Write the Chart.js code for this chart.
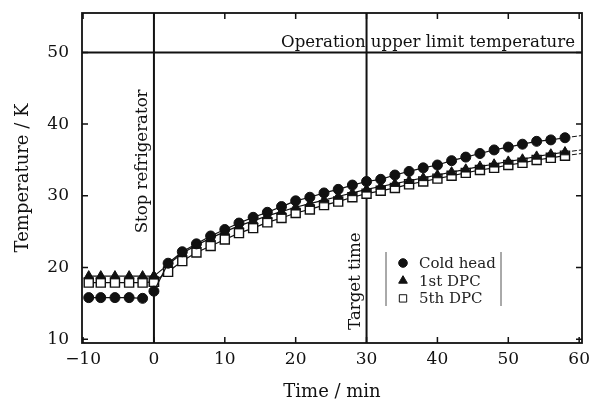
<!DOCTYPE html>
<html>
<head>
<meta charset="utf-8">
<script src="https://cdn.jsdelivr.net/npm/chart.js@4/dist/chart.umd.min.js"></script>
<style>
  html, body { margin: 0; padding: 0; background: #fff; }
  #wrap { width: 595px; height: 404px; }
</style>
</head>
<body>
<div id="wrap"><canvas id="c" width="595" height="404"></canvas></div>
<script>
// Axis ticks
const xTicks = [-10, 0, 10, 20, 30, 40, 50, 60];
const yTicks = [10, 20, 30, 40, 50];

// Time stamps (min): before and after the refrigerator is stopped
const preMinutes = [-9.2, -7.5, -5.5, -3.5, -1.6];
const preMinutesToStop = [-9.2, -7.5, -5.5, -3.5, -1.6, 0];
const postMinutes = [0, 2, 4, 6, 8, 10, 12, 14, 16, 18, 20, 22, 24, 26, 28,
                     30, 32, 34, 36, 38, 40, 42, 44, 46, 48, 50, 52, 54, 56, 58];
const tailMinutes = [58, 60.3];

// Temperatures (K)
const coldHeadPre = [15.8, 15.8, 15.8, 15.8, 15.7];
const coldHeadPost = [16.7, 20.6, 22.2, 23.3, 24.4, 25.3, 26.2, 27.0, 27.7, 28.5,
                      29.3, 29.8, 30.4, 30.9, 31.5, 32.0, 32.3, 32.9, 33.4, 33.9,
                      34.3, 34.9, 35.4, 35.9, 36.4, 36.8, 37.2, 37.6, 37.8, 38.1];
const coldHeadTail = [38.1, 38.4];

const dpc1Pre = [18.8, 18.8, 18.8, 18.8, 18.8, 18.8];
const dpc1Post = [18.8, 20.4, 22.0, 23.1, 24.1, 25.0, 25.8, 26.5, 27.2, 27.8,
                  28.4, 28.9, 29.4, 29.9, 30.4, 30.9, 31.3, 31.7, 32.1, 32.5,
                  32.9, 33.3, 33.7, 34.1, 34.4, 34.8, 35.1, 35.5, 35.8, 36.1];
const dpc1Tail = [36.1, 36.4];

const dpc5Pre = [17.9, 17.9, 17.9, 17.9, 17.9, 18.0];
const dpc5Post = [18.0, 19.4, 20.9, 22.1, 23.0, 23.9, 24.8, 25.5, 26.3, 26.9,
                  27.6, 28.1, 28.7, 29.2, 29.8, 30.3, 30.7, 31.1, 31.6, 32.0,
                  32.4, 32.8, 33.2, 33.6, 33.9, 34.3, 34.6, 35.0, 35.3, 35.6];
const dpc5Tail = [35.6, 35.9];

// Reference marks
const upperLimit = 50;
const stopTime = 0;
const targetTime = 30;

const seriesNames = ['Cold head', '1st DPC', '5th DPC'];

const FONT = '"DejaVu Serif", "Liberation Serif", serif';
const INK = '#111';

const pts = (xs, ys) => xs.map((x, i) => ({ x: x, y: ys[i] }));

const styles = {
  cold: { pointStyle: 'circle', pointRadius: 5, pointBackgroundColor: INK, pointBorderColor: INK, pointBorderWidth: 1 },
  dpc1: { pointStyle: 'triangle', pointRadius: 5.5, pointBackgroundColor: INK, pointBorderColor: INK, pointBorderWidth: 1 },
  dpc5: { pointStyle: 'rect', pointRadius: 6.4, pointBackgroundColor: '#fff', pointBorderColor: INK, pointBorderWidth: 1.4 }
};

function series(data, st, order) {
  return Object.assign({
    data: data, showLine: true, borderColor: INK, borderWidth: 1.2,
    tension: 0, order: order
  }, st);
}
function tail(data) {
  return { data: data, showLine: true, borderColor: INK, borderWidth: 1,
           borderDash: [5, 2], pointRadius: 0, order: 5 };
}

const datasets = [
  series(pts(preMinutes, coldHeadPre), styles.cold, 1),
  series(pts(postMinutes, coldHeadPost), styles.cold, 1),
  series(pts(preMinutesToStop, dpc5Pre), styles.dpc5, 2),
  series(pts(postMinutes, dpc5Post), styles.dpc5, 2),
  series(pts(preMinutesToStop, dpc1Pre), styles.dpc1, 0),
  series(pts(postMinutes, dpc1Post), styles.dpc1, 0),
  tail(pts(tailMinutes, coldHeadTail)),
  tail(pts(tailMinutes, dpc1Tail)),
  tail(pts(tailMinutes, dpc5Tail))
];

// Frame, inward ticks, reference lines and their captions
const framePlugin = {
  id: 'frame',
  beforeDatasetsDraw(chart) {
    const { ctx, chartArea: a, scales: { x, y } } = chart;
    ctx.save();
    ctx.strokeStyle = INK;
    ctx.lineWidth = 2;
    // limit line and event lines
    const yl = y.getPixelForValue(upperLimit);
    ctx.beginPath(); ctx.moveTo(a.left, yl); ctx.lineTo(a.right, yl); ctx.stroke();
    [stopTime, targetTime].forEach(v => {
      const px = x.getPixelForValue(v);
      ctx.beginPath(); ctx.moveTo(px, a.top); ctx.lineTo(px, a.bottom); ctx.stroke();
    });
    // frame
    ctx.lineWidth = 1.8;
    ctx.strokeRect(a.left, a.top, a.right - a.left, a.bottom - a.top);
    // inward ticks on all four sides
    ctx.lineWidth = 1.5;
    const tl = 6;
    xTicks.forEach(v => {
      const px = x.getPixelForValue(v);
      ctx.beginPath();
      ctx.moveTo(px, a.bottom); ctx.lineTo(px, a.bottom - tl);
      ctx.moveTo(px, a.top); ctx.lineTo(px, a.top + tl);
      ctx.stroke();
    });
    yTicks.forEach(v => {
      const py = y.getPixelForValue(v);
      ctx.beginPath();
      ctx.moveTo(a.left, py); ctx.lineTo(a.left + tl, py);
      ctx.moveTo(a.right, py); ctx.lineTo(a.right - tl, py);
      ctx.stroke();
    });
    // captions
    ctx.fillStyle = INK;
    ctx.font = '16.6px ' + FONT;
    ctx.textAlign = 'right';
    ctx.textBaseline = 'alphabetic';
    ctx.fillText('Operation upper limit temperature', a.right - 7, yl - 5);

    const vCaption = (text, v, yMid) => {
      ctx.save();
      ctx.translate(x.getPixelForValue(v) - 7, y.getPixelForValue(yMid));
      ctx.rotate(-Math.PI / 2);
      ctx.textAlign = 'center';
      ctx.textBaseline = 'alphabetic';
      ctx.fillText(text, 0, 0);
      ctx.restore();
    };
    vCaption('Stop refrigerator', stopTime, 34.8);
    vCaption('Target time', targetTime, 18.1);
    ctx.restore();
  },
  afterDraw(chart) {
    const { ctx, chartArea: a } = chart;
    ctx.save();
    // legend box, bounded by thin vertical bars
    const left = a.left + 304, right = a.left + 419, top = a.top + 239, bottom = a.top + 293;
    ctx.strokeStyle = '#555';
    ctx.lineWidth = 1;
    ctx.beginPath();
    ctx.moveTo(left, top); ctx.lineTo(left, bottom);
    ctx.moveTo(right, top); ctx.lineTo(right, bottom);
    ctx.stroke();
    const legendStyles = [
      { pointStyle: 'circle', radius: 4.3, fill: INK, bw: 1 },
      { pointStyle: 'triangle', radius: 5, fill: INK, bw: 1 },
      { pointStyle: 'rect', radius: 5.2, fill: '#fff', bw: 1 }
    ];
    ctx.font = '15px ' + FONT;
    ctx.textAlign = 'left';
    ctx.textBaseline = 'middle';
    seriesNames.forEach((name, i) => {
      const cy = top + 11 + i * 17.7;
      const s = legendStyles[i];
      ctx.fillStyle = s.fill;
      ctx.strokeStyle = INK;
      ctx.lineWidth = s.bw;
      Chart.helpers.drawPoint(ctx, { pointStyle: s.pointStyle, radius: s.radius, rotation: 0, borderWidth: s.bw }, left + 17, cy);
      ctx.fillStyle = '#222';
      ctx.fillText(name, left + 33, cy + 1);
    });
    ctx.restore();
  }
};

// Keep the plot box fixed: tick-label overhang must not push the chart area inward
const noOverhang = s => { s.paddingTop = 0; s.paddingBottom = 0; s.paddingLeft = 0; s.paddingRight = 0; };

new Chart(document.getElementById('c'), {
  type: 'scatter',
  data: { datasets: datasets },
  options: {
    responsive: false,
    animation: false,
    layout: { padding: { left: 13, top: 13, right: 13, bottom: 1 } },
    plugins: { legend: { display: false }, tooltip: { enabled: false } },
    scales: {
      x: {
        type: 'linear', min: -10.15, max: 60.4,
        afterBuildTicks: s => { s.ticks = xTicks.map(v => ({ value: v })); },
        afterFit: s => { s.height = 60; noOverhang(s); },
        grid: { display: false, drawTicks: false },
        border: { display: false },
        ticks: { color: INK, font: { family: FONT, size: 17 }, padding: 6,
                 maxRotation: 0, autoSkip: false,
                 callback: v => (v < 0 ? '\u2212' + (-v) : String(v)) },
        title: { display: true, text: 'Time / min', color: INK,
                 font: { family: FONT, size: 18 }, padding: { top: 0, bottom: 0 } }
      },
      y: {
        type: 'linear', min: 9.47, max: 55.5,
        afterBuildTicks: s => { s.ticks = yTicks.map(v => ({ value: v })); },
        afterFit: s => { s.width = 69; noOverhang(s); },
        grid: { display: false, drawTicks: false },
        border: { display: false },
        ticks: { color: INK, font: { family: FONT, size: 17 }, padding: 13, autoSkip: false },
        title: { display: true, text: 'Temperature / K', color: INK,
                 font: { family: FONT, size: 18 }, padding: { top: 0, bottom: 0 } }
      }
    }
  },
  plugins: [framePlugin]
});
</script>
</body>
</html>
